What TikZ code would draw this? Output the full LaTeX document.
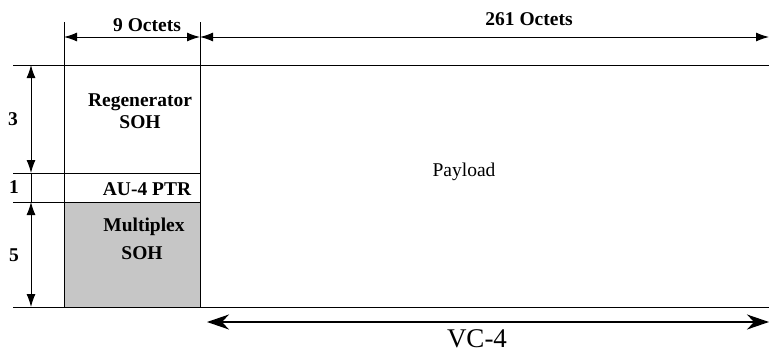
\documentclass[tikz,border=0pt]{standalone}
\usepackage{fontspec}
\setmainfont{Liberation Serif}
\usetikzlibrary{arrows.meta}
\tikzset{
  ln/.style={line width=1pt},
  dim/.style={line width=1pt,{Latex[length=13pt,width=9pt]}-{Latex[length=13pt,width=9pt]}},
  big/.style={line width=1.5pt,{Stealth[length=22pt,width=15pt,inset=7pt]}-{Stealth[length=22pt,width=15pt,inset=7pt]}},
  lbl/.style={font=\fontsize{19.5}{22}\selectfont\bfseries,anchor=base,inner sep=0pt},
  plain/.style={font=\fontsize{19.5}{22}\selectfont,anchor=base,inner sep=0pt},
}
\begin{document}
\begin{tikzpicture}[x=1pt,y=-1pt]
\useasboundingbox (0,0) rectangle (769,354);
% coordinates
\coordinate (tl) at (64,65);
\coordinate (tm) at (200,65);
\coordinate (tr) at (769,65);
\coordinate (bl) at (64,307);
\coordinate (bm) at (200,307);
\coordinate (br) at (769,307);
% gray multiplex area
\fill[gray!45] (64,202) rectangle (bm);
% horizontal lines
\draw[ln] (13,65) -- (tr);
\draw[ln] (13,307) -- (br);
\draw[ln] (13,173) -- (200,173);
\draw[ln] (13,202) -- (200,202);
% vertical lines
\draw[ln] (64,22) -- (bl);
\draw[ln] (200,22) -- (bm);
% top dimensions
\coordinate (a1) at (64,37);
\coordinate (a2) at (200,37);
\coordinate (a3) at (769,37);
\draw[dim] (a1) -- (a2);
\draw[dim] (a2) -- (a3);
\node[lbl] (n9) at (147,31) {9 Octets};
\node[lbl] (n261) at (529,25) {261 Octets};
% left dimensions
\coordinate (v1) at (31,65);
\coordinate (v2) at (31,173);
\coordinate (v3) at (31,202);
\coordinate (v4) at (31,307);
\draw[dim] (v1) -- (v2);
\draw[ln] (v2) -- (v3);
\draw[dim] (v3) -- (v4);
\node[lbl] (r3) at (13,125) {3};
\node[lbl] (r1) at (14,193) {1};
\node[lbl] (r5) at (14,261) {5};
% block labels
\node[lbl] (reg) at (140,106) {Regenerator};
\node[lbl] (regs) at (140,128) {SOH};
\node[lbl] (ptr) at (147,195) {AU-4 PTR};
\node[lbl] (mux) at (144,231) {Multiplex};
\node[lbl] (muxs) at (142,259) {SOH};
\node[plain] (pay) at (464,176) {Payload};
% VC-4
\coordinate (c1) at (207,322);
\coordinate (c2) at (769,322);
\draw[big] (c1) -- (c2);
\node[plain,font=\fontsize{27}{30}\selectfont] (vc) at (477,347) {VC-4};
\end{tikzpicture}
\end{document}
